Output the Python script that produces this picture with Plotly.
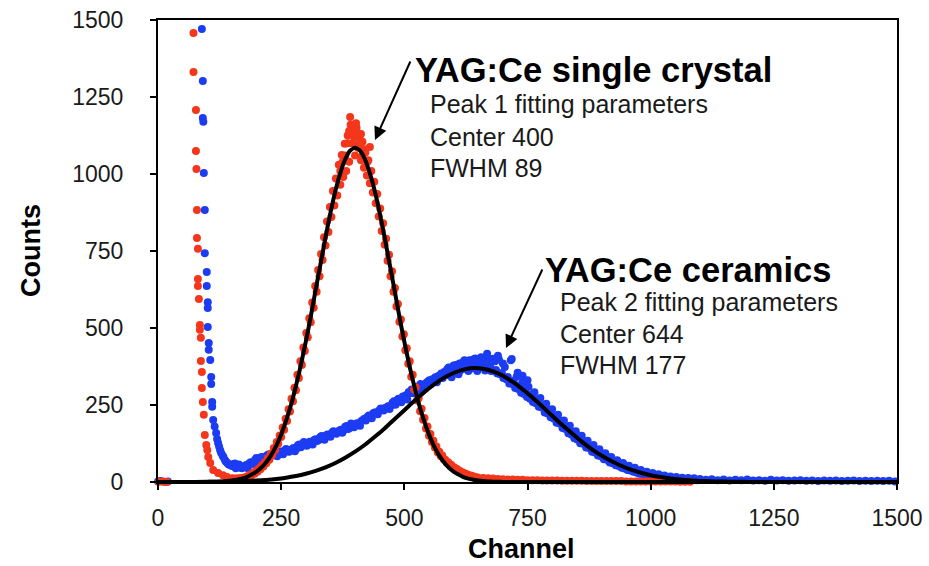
import plotly.graph_objects as go

# ---------------- data ----------------
# YAG:Ce single crystal (red) - low-channel spike
red_spike_ch = [2, 10, 18, 72, 72, 77, 77, 78, 79, 79, 81, 81, 81, 83, 85, 85, 87, 87, 89, 89,
                91, 93, 95, 98, 100, 102, 106, 112, 122, 132, 140]
red_spike_ct = [1, 2, 0, 1458, 1331, 1208, 1075, 1016, 883, 792, 757, 659, 636, 594, 510, 494,
                468, 393, 357, 305, 260, 218, 153, 120, 104, 81, 62, 39, 29, 22, 16]
# main peak, channels 151, 154, ... (step 3)
red_main_start, red_main_step = 151, 3
red_main_ct = [12, 10, 11, 9, 12, 10, 13, 11, 15, 14, 19, 17, 24, 22, 29, 27, 37, 33, 44, 41,
               54, 50, 64, 61, 77, 72, 92, 88, 110, 104, 130, 124, 151, 146, 177, 170, 205, 198,
               236, 229, 270, 262, 306, 298, 348, 338, 392, 380, 437, 425, 484, 470, 532, 519,
               583, 566, 636, 618, 688, 668, 740, 721, 795, 768, 846, 812, 893, 860, 945, 898,
               985, 930, 1030, 965, 1062, 990, 1098, 1010, 1125, 1040, 1160, 1100, 1140, 1060,
               1150, 1085, 1120, 1045, 1105, 1020, 1070, 995, 1045, 970, 1010, 940, 975, 905,
               935, 862, 888, 815, 840, 770, 790, 718, 738, 668, 684, 618, 630, 570, 578, 520,
               528, 472, 480, 428, 434, 384, 392, 342, 348, 300, 308, 265, 272, 230, 238, 202,
               208, 174, 180, 150, 156, 130, 134, 112, 115, 96, 98, 84, 86, 74, 72, 63, 64, 55,
               56, 47, 48, 40, 42, 34, 36, 29, 31, 25, 27, 21, 23, 18, 20, 16, 17, 14, 15]
# extra scattered points around the top of the peak
red_extra_ch = [390, 395, 398, 402, 405, 410, 430, 385, 380, 420, 415, 388, 408, 412, 425, 375, 370]
red_extra_ct = [1185, 1150, 1120, 1165, 1130, 1095, 1088, 1100, 1060, 1080, 1060, 1140, 1100,
                1130, 1040, 1040, 1010]
# flat tail, channels 660, 670, ... (step 10)
red_tail_start, red_tail_step = 660, 10
red_tail_ct = [13, 12, 11, 10, 9, 8, 8, 7, 7, 6, 6, 6, 5, 5, 5, 5, 4, 4, 4, 4, 4, 3, 3, 3, 3,
               3, 3, 3, 3, 2, 2, 2, 2, 2, 2, 2, 2, 2, 2, 2, 1, 1, 1]

# YAG:Ce ceramics (blue) - low-channel spike
blue_spike_ch = [0, 5, 12, 20, 89, 91, 91, 92, 93, 95, 95, 99, 99, 101, 101, 101, 103, 103, 106,
                 108, 108, 110, 110, 112, 118, 122, 126, 131, 136, 141, 146,
                 115, 120, 124, 128, 133, 138, 143, 150, 156, 162]
blue_spike_ct = [2, 3, 1, 2, 1471, 1302, 1182, 1170, 1003, 883, 743, 682, 636, 584, 565, 503,
                 451, 429, 396, 341, 318, 260, 244, 201, 159, 127, 104, 86, 71, 62, 55,
                 180, 140, 115, 95, 80, 66, 58, 52, 60, 55]
# broad peak, channels 152, 158, ... (step 6)
blue_main_start, blue_main_step = 152, 6
blue_main_ct = [58, 45, 57, 45, 52, 45, 64, 58, 78, 68, 81, 72, 89, 85, 97, 84, 99, 90, 107, 98,
                106, 100, 119, 113, 130, 118, 131, 122, 139, 136, 149, 137, 154, 147, 165, 157,
                166, 160, 179, 172, 190, 178, 191, 183, 201, 200, 216, 207, 226, 220, 239, 232,
                242, 237, 257, 251, 270, 259, 273, 268, 289, 288, 304, 295, 313, 307, 326, 319,
                329, 324, 344, 338, 358, 347, 361, 354, 379, 363, 388, 367, 395, 369, 401, 370,
                405, 371, 416, 375, 400, 364, 398, 354, 373, 341, 395, 329, 342, 313, 324, 300,
                309, 284, 291, 268, 273, 249, 254, 233, 236, 214, 218, 197, 200, 180, 183, 162,
                165, 146, 150, 131, 134, 116, 120, 103, 106, 89, 93, 78, 81, 67, 71, 58, 62, 49,
                53, 42, 46, 35, 39, 29, 33, 25, 29, 21, 25, 17, 21, 14, 18, 12, 16, 10, 14, 8,
                13, 7, 12, 6, 10]
# second pass of scattered points along the same band, channels 155, 161, ... (step 6)
blue_band_start, blue_band_step = 155, 6
blue_band_ct = [50, 52, 47, 50, 55, 60, 61, 72, 70, 80, 76, 86, 83, 93, 90, 95, 94, 102, 100,
                104, 110, 108, 122, 121, 125, 126, 128, 136, 133, 145, 140, 151, 150, 160, 162,
                164, 170, 168, 182, 175, 185, 186, 190, 198, 205, 211, 212, 223, 226, 232, 236,
                240, 246, 248, 262, 265, 266, 278, 282, 292, 300, 298, 310, 318, 314, 322, 330,
                334, 340, 344, 352, 357, 366, 360, 375, 380, 372, 386, 378, 390, 382, 395, 384,
                392, 380, 386, 372, 366, 360, 352, 350, 338, 334, 320, 318, 305, 302, 290, 286,
                276, 270, 260, 256, 244, 242, 226, 222, 210, 206, 192, 190, 175, 172, 158, 154,
                142, 138, 126, 124, 112, 110, 98, 96, 86, 84, 74, 72, 63, 61, 54, 52, 46, 44, 39,
                37, 33, 31, 27, 26, 23, 22, 19, 18, 16, 15, 13, 12, 11, 10, 9, 9, 8]
blue_extra_ch = [590, 600, 612, 622, 640, 652, 660, 670, 684, 690, 700, 718, 730, 740, 750,
                 596, 610, 630, 648, 664, 676, 688]
blue_extra_ct = [372, 378, 385, 395, 398, 393, 402, 398, 392, 410, 385, 399, 355, 345, 330,
                 340, 350, 360, 360, 362, 360, 355]
# baseline tail, channels 1112, 1124, ... (step 12)
blue_tail_start, blue_tail_step = 1112, 12
blue_tail_ct = [7, 9, 6, 8, 5, 7, 6, 8, 5, 6, 4, 7, 5, 6, 4, 5, 6, 4, 5, 3, 5, 4, 5, 3, 4, 5,
                3, 4, 3, 4, 3, 4, 2]

# fitted curves
fit1_mid_start, fit1_mid_step = 100, 10
fit1_mid_ct = [0.4, 0.7, 1.2, 2.0, 3.1, 4.8, 7.3, 11, 16, 24, 34, 47, 65, 88, 117, 154, 199,
               251, 312, 380, 456, 537, 624, 709, 794, 874, 945, 1003, 1048, 1076, 1085, 1076,
               1048, 1003, 945, 874, 794, 709, 624, 537, 456, 380, 312, 251, 199, 154, 117, 88,
               65, 47, 34, 24, 16, 11, 7.3, 4.8, 3.1, 2.0, 1.2, 0.7, 0.4]
fit2_mid_start, fit2_mid_step = 100, 20
fit2_mid_ct = [0.5, 0.8, 1.3, 2.0, 3.1, 4.6, 6.8, 9.8, 14, 19.5, 26.7, 35.9, 47.4, 61.6, 78.6,
               98.5, 121, 147, 174, 204, 233, 263, 291, 316, 338, 354, 365, 370, 368, 359, 345,
               325, 301, 274, 245, 215, 186, 158, 131, 107, 86, 68, 52.8, 40.2, 30.1, 22.1, 16,
               11.4, 7.9, 5.4, 3.6, 2.4, 1.6, 1.0, 0.6, 0.4]

x_ticks = [0, 250, 500, 750, 1000, 1250, 1500]
y_ticks = [0, 250, 500, 750, 1000, 1250, 1500]


def grid(start, step, values):
    return [start + i * step for i in range(len(values))]


red_x = red_spike_ch + grid(red_main_start, red_main_step, red_main_ct) + red_extra_ch + \
    grid(red_tail_start, red_tail_step, red_tail_ct)
red_y = red_spike_ct + red_main_ct + red_extra_ct + red_tail_ct
blue_x = blue_spike_ch + grid(blue_main_start, blue_main_step, blue_main_ct) + \
    grid(blue_band_start, blue_band_step, blue_band_ct) + blue_extra_ch + \
    grid(blue_tail_start, blue_tail_step, blue_tail_ct)
blue_y = blue_spike_ct + blue_main_ct + blue_band_ct + blue_extra_ct + blue_tail_ct

fit1_x = [0, 50] + grid(fit1_mid_start, fit1_mid_step, fit1_mid_ct) + [800, 1000, 1250, 1500]
fit1_y = [0, 0] + fit1_mid_ct + [0, 0, 0, 0]
fit2_x = [0, 50] + grid(fit2_mid_start, fit2_mid_step, fit2_mid_ct) + [1300, 1400, 1500]
fit2_y = [0, 0] + fit2_mid_ct + [0, 0, 0]

RED = "#F4361C"
BLUE = "#1C3CF4"
FONT = "Arial, 'Liberation Sans', sans-serif"

fig = go.Figure()
fig.add_trace(go.Scatter(x=blue_x, y=blue_y, mode="markers", cliponaxis=False,
                         marker=dict(color=BLUE, size=8, line=dict(width=0)),
                         name="YAG:Ce ceramics"))
fig.add_trace(go.Scatter(x=red_x, y=red_y, mode="markers", cliponaxis=False,
                         marker=dict(color=RED, size=8, line=dict(width=0)),
                         name="YAG:Ce single crystal"))
fig.add_trace(go.Scatter(x=fit2_x, y=fit2_y, mode="lines", line=dict(color="black", width=4,
                         shape="spline", smoothing=0.6), name="Peak 2 fit"))
fig.add_trace(go.Scatter(x=fit1_x, y=fit1_y, mode="lines", line=dict(color="black", width=4,
                         shape="spline", smoothing=0.6), name="Peak 1 fit"))

L, R, T, B = 158, 32, 20, 84
W, H = 929, 566
PW, PH = W - L - R, H - T - B


def px(x):
    return (x - L) / PW


def py(y):
    return (H - B - y) / PH


annotations = []
texts = [
    ("YAG:Ce single crystal", 413, 70, 34.5, True),
    ("Peak 1 fitting parameters", 428, 104, 25, False),
    ("Center 400", 428, 137, 25, False),
    ("FWHM 89", 428, 168, 25, False),
    ("YAG:Ce ceramics", 543, 270, 34.5, True),
    ("Peak 2 fitting parameters", 558, 302, 25, False),
    ("Center 644", 558, 334, 25, False),
    ("FWHM 177", 558, 365, 25, False),
]
for t, x, y, s, b in texts:
    annotations.append(dict(text=f"<b>{t}</b>" if b else t, x=px(x), y=py(y), xref="paper",
                            yref="paper", xanchor="left", yanchor="middle", showarrow=False,
                            font=dict(family=FONT, size=s, color="black" if b else "#1a1a1a")))
for hx, hy, tx, ty in [(375, 140, 411, 60), (506, 348, 543, 268)]:
    annotations.append(dict(text="", x=px(hx), y=py(hy), xref="paper", yref="paper",
                            ax=tx - hx, ay=ty - hy, showarrow=True, arrowhead=2,
                            arrowsize=1.3, arrowwidth=2, arrowcolor="black"))
# axis titles
annotations.append(dict(text="<b>Channel</b>", x=px(521), y=py(549), xref="paper", yref="paper",
                        xanchor="center", yanchor="middle", showarrow=False,
                        font=dict(family=FONT, size=27, color="black")))
annotations.append(dict(text="<b>Counts</b>", x=px(31), y=py(251), xref="paper", yref="paper",
                        xanchor="center", yanchor="middle", showarrow=False, textangle=-90,
                        font=dict(family=FONT, size=27, color="black")))

axis_common = dict(showgrid=False, zeroline=False, showline=True, linecolor="black",
                   linewidth=2, mirror=True, ticks="outside", ticklen=6, tickwidth=2,
                   tickcolor="black", automargin=False,
                   tickfont=dict(family=FONT, size=23, color="#1a1a1a"))

fig.update_layout(
    width=W, height=H, margin=dict(l=L, r=R, t=T, b=B),
    paper_bgcolor="white", plot_bgcolor="white", showlegend=False,
    xaxis=dict(range=[0, 1500], tickvals=x_ticks, ticktext=[str(v) for v in x_ticks],
               ticklabelstandoff=8, **axis_common),
    yaxis=dict(range=[0, 1500], tickvals=y_ticks, ticktext=[str(v) for v in y_ticks],
               ticklabelstandoff=22, **axis_common),
    annotations=annotations,
)

fig.write_html("out.html")
